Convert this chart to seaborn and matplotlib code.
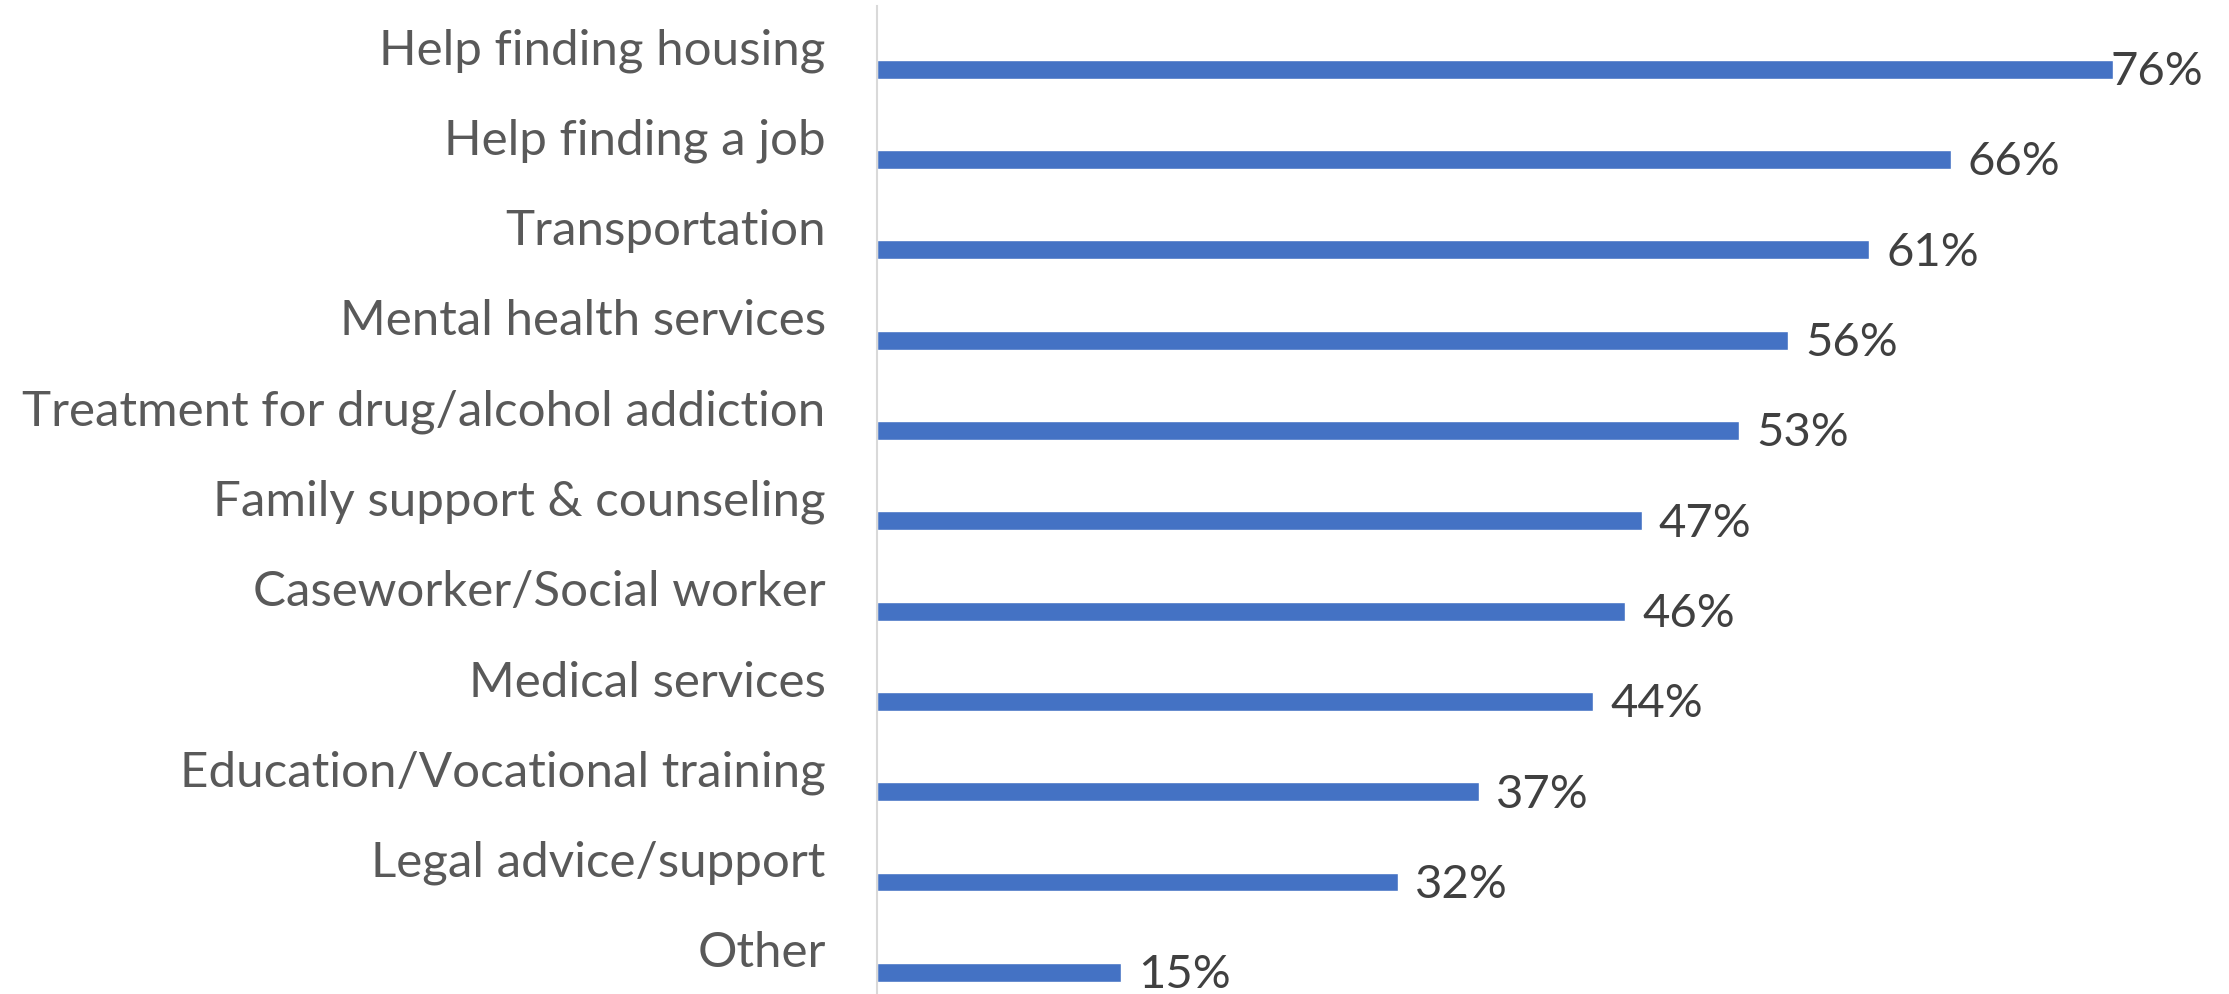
import numpy as np
import pandas as pd
import matplotlib
matplotlib.use("Agg")
import matplotlib.pyplot as plt
import seaborn as sns

# hizmet kategorileri ve yuzdeler
kategoriler = ["Help finding housing", "Help finding a job", "Transportation",
               "Mental health services", "Treatment for drug/alcohol addiction",
               "Family support & counseling", "Caseworker/Social worker",
               "Medical services", "Education/Vocational training",
               "Legal advice/support", "Other"]
yuzdeler = [76, 66, 61, 56, 53, 47, 46, 44, 37, 32, 15]
etiketler = [f"{v}%" for v in yuzdeler]

df = pd.DataFrame({"kategori": kategoriler, "yuzde": yuzdeler})

sns.set_style("white")
plt.rcParams['font.family'] = ['Lato', 'DejaVu Sans']

fig = plt.figure(figsize=(22.29, 9.95), dpi=100)
ax = fig.add_axes([0.3935, 0.0, 0.6065, 0.993])

sns.barplot(data=df, y="kategori", x="yuzde", orient="h", color="#4472C4",
            width=0.21, saturation=1, ax=ax)

ax.set_xlim(0, 83.1)
ax.set_ylim(10.24, -0.70)
ax.set_xlabel("")
ax.set_ylabel("")
ax.set_xticks([])
ax.set_yticks([])
for s in ["top", "right", "bottom"]:
    ax.spines[s].set_visible(False)
ax.spines["left"].set_color("#D9D9D9")
ax.spines["left"].set_linewidth(1.5)

# kategori yazilari cubuklarin biraz ustunde
for i, k in enumerate(kategoriler):
    ax.text(-0.038, i - 0.22, k, transform=ax.get_yaxis_transform(),
            ha="right", va="center", fontsize=35.5, color="#595959")

# deger etiketleri
for i, (v, e) in enumerate(zip(yuzdeler, etiketler)):
    x = min(v + 1.05, 75.8)
    ax.text(x, i + 0.02, e, ha="left", va="center", fontsize=34, color="#404040")

fig.savefig("out.png", dpi=100)
